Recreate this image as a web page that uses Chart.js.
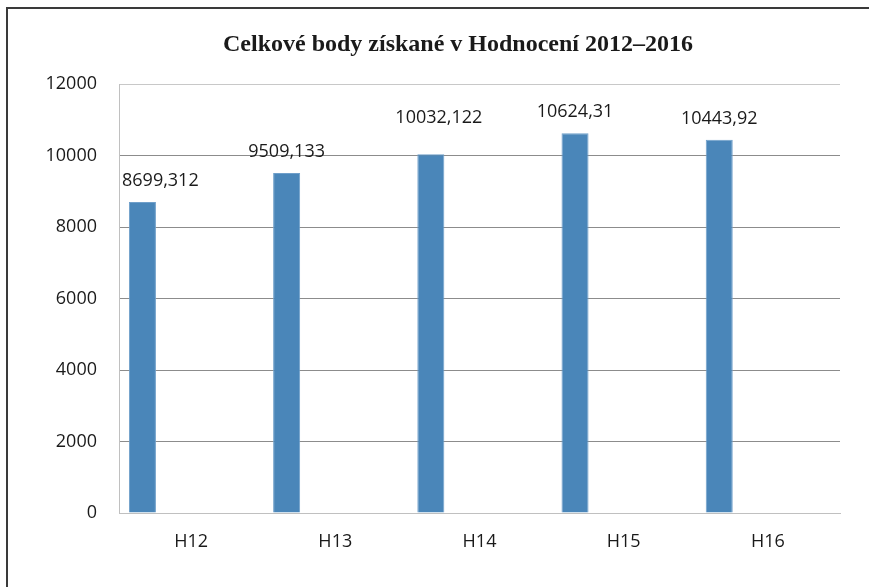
<!DOCTYPE html>
<html>
<head>
<meta charset="utf-8">
<script src="https://cdn.jsdelivr.net/npm/chart.js@4"></script>
<style>
    body { margin: 0; background: #ffffff; }
    #wrap { width: 869px; height: 587px; }
</style>
</head>
<body>
<div id="wrap"><canvas id="pointsChart" width="869" height="587"></canvas></div>
<script>
// DATA
const categories = ["H12", "H13", "H14", "H15", "H16"];
const totalPoints = [8699.312, 9509.133, 10032.122, 10624.31, 10443.92];
// the source sheet had extra series left blank, which is why bars sit left in each group
const blankSeries = [null, null, null, null, null];
const yTicks = [0, 2000, 4000, 6000, 8000, 10000, 12000];

const titleText = "Celkové body získané v Hodnocení 2012–2016";
const labelFont = "'Open Sans', sans-serif";

// FRAME (top and left border of the original figure) + TITLE
const framePlugin = {
    id: "framePlugin",
    beforeDraw(chart) {
        const ctx = chart.ctx;
        ctx.save();
        ctx.strokeStyle = "#3a3a3a";
        ctx.lineWidth = 2;
        ctx.beginPath();
        ctx.moveTo(7, chart.height);
        ctx.lineTo(7, 8);
        ctx.lineTo(chart.width, 8);
        ctx.stroke();

        // title is centred a bit left of the plot area, as in the original
        ctx.font = "bold 24px 'Liberation Serif', 'Times New Roman', serif";
        ctx.fillStyle = "#1a1a1a";
        ctx.textAlign = "center";
        ctx.textBaseline = "middle";
        ctx.fillText(titleText, 458, 45);
        ctx.restore();
    }
};

// VALUE LABELS above the bars
const valueLabelPlugin = {
    id: "valueLabelPlugin",
    afterDatasetsDraw(chart) {
        const ctx = chart.ctx;
        const meta = chart.getDatasetMeta(0);
        const area = chart.chartArea;
        ctx.save();
        ctx.font = "18px " + labelFont;
        ctx.fillStyle = "#1a1a1a";
        ctx.textBaseline = "middle";
        ctx.textAlign = "left";
        meta.data.forEach((bar, i) => {
            const text = String(totalPoints[i]).replace(".", ",");
            const w = ctx.measureText(text).width;
            let x = bar.x - w / 2;
            let y = bar.y - 21;
            // the H14 label was nudged in the original
            if (i === 2) { x += 8; y -= 15; }
            if (x < area.left + 3) x = area.left + 3;
            ctx.fillText(text, x, y);
        });
        ctx.restore();
    }
};

const ctx = document.getElementById("pointsChart");

new Chart(ctx, {
    type: "bar",
    data: {
        labels: categories,
        datasets: [
            {
                label: "Body",
                data: totalPoints,
                backgroundColor: "#4a86b9",
                borderColor: "#6f9fca",
                borderWidth: 1
            },
            { label: "B", data: blankSeries },
            { label: "C", data: blankSeries },
            { label: "D", data: blankSeries }
        ]
    },
    options: {
        responsive: false,
        animation: false,
        devicePixelRatio: 1,
        categoryPercentage: 0.9,
        barPercentage: 0.833,
        layout: {
            padding: { left: 0, right: 29, top: 84, bottom: 0 }
        },
        plugins: {
            legend: { display: false },
            tooltip: { enabled: false },
            title: { display: false }
        },
        scales: {
            x: {
                grid: { display: false, drawTicks: false },
                border: { display: true, color: "#c0c0c0", width: 1 },
                ticks: {
                    color: "#1a1a1a",
                    font: { family: labelFont, size: 18 },
                    padding: 18
                },
                afterFit(scale) {
                    scale.height = 74;
                }
            },
            y: {
                min: 0,
                max: 12000,
                afterBuildTicks(scale) {
                    scale.ticks = yTicks.map((v) => ({ value: v }));
                },
                grid: {
                    drawTicks: false,
                    color: (c) => (c.tick && (c.tick.value === 12000 || c.tick.value === 0)) ? "#c8c8c8" : "#8c8c8c"
                },
                border: { display: true, color: "#c0c0c0", width: 1 },
                ticks: {
                    color: "#1a1a1a",
                    font: { family: labelFont, size: 18 },
                    padding: 22,
                    callback: (value) => String(value)
                },
                afterFit(scale) {
                    scale.width = 119;
                }
            }
        }
    },
    plugins: [framePlugin, valueLabelPlugin]
});
</script>
</body>
</html>
